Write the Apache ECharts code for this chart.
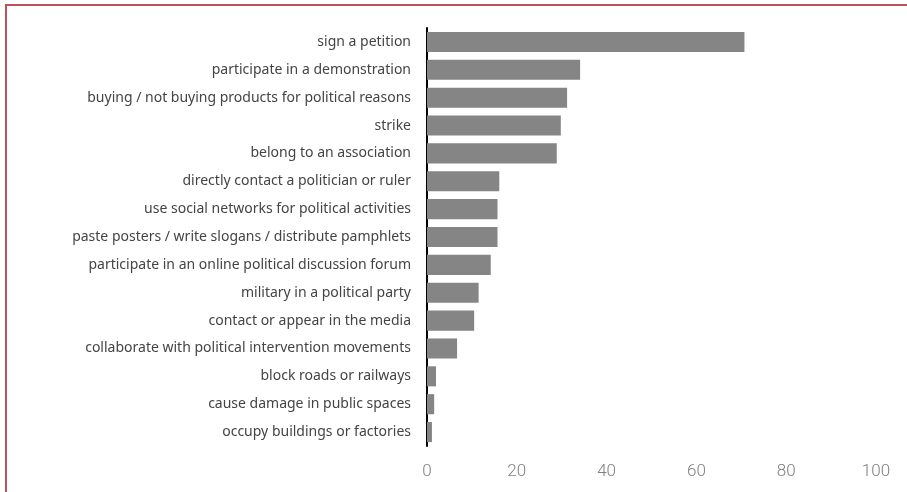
<!DOCTYPE html>
<html lang="en">
<head>
  <meta charset="UTF-8">
  <script src="https://cdn.jsdelivr.net/npm/echarts@6/dist/echarts.min.js"></script>
  <style>
    html, body { margin: 0; padding: 0; background: #fff; }
    #frame { position: absolute; left: 5px; top: 4px; width: 902px; height: 488px;
             border-top: 2px solid #c0505a; border-left: 2px solid #c0505a; }
    #main { position: absolute; left: 0; top: 0; width: 907px; height: 492px; }
  </style>
</head>
<body>
  <div id="frame"></div>
  <div id="main"></div>
  <script type="text/javascript">
    // activities, top to bottom as in the picture
    const activities = [
      'sign a petition',
      'participate in a demonstration',
      'buying / not buying products for political reasons',
      'strike',
      'belong to an association',
      'directly contact a politician or ruler',
      'use social networks for political activities',
      'paste posters / write slogans / distribute pamphlets',
      'participate in an online political discussion forum',
      'military in a political party',
      'contact or appear in the media',
      'collaborate with political intervention movements',
      'block roads or railways',
      'cause damage in public spaces',
      'occupy buildings or factories'
    ];
    const shares = [70.7, 34.1, 31.2, 29.8, 28.9, 16.1, 15.7, 15.7, 14.2, 11.5, 10.5, 6.7, 2.0, 1.6, 1.1];
    const xTicks = [0, 20, 40, 60, 80, 100];

    const chart = echarts.init(document.getElementById('main'));
    chart.setOption({
      animation: false,
      grid: { left: 427, right: 31, top: 28, bottom: 46 },
      xAxis: {
        type: 'value',
        min: xTicks[0],
        max: xTicks[xTicks.length - 1],
        interval: 20,
        splitLine: { show: false },
        axisLine: { show: false },
        axisTick: { show: false },
        axisLabel: { color: '#808080', fontSize: 17, fontFamily: 'Roboto', fontWeight: 300, margin: 17 }
      },
      yAxis: {
        type: 'category',
        inverse: true,
        data: activities,
        axisLine: { show: true, lineStyle: { color: '#000', width: 2 } },
        axisTick: { show: false },
        axisLabel: { color: '#444', fontSize: 14, fontFamily: 'Noto Sans', margin: 16 }
      },
      series: [{
        type: 'bar',
        data: shares,
        barWidth: '72%',
        itemStyle: { color: '#858585' }
      }]
    });
  </script>
</body>
</html>
